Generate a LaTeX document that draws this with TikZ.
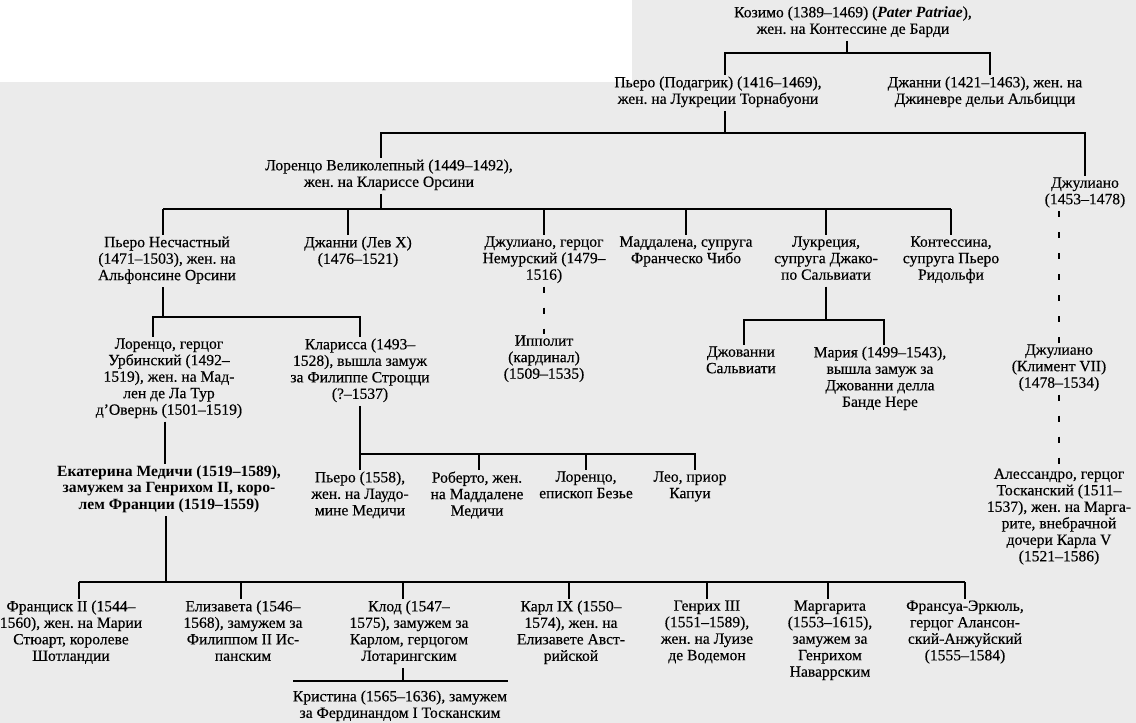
\documentclass[tikz,border=0pt]{standalone}
\usepackage{fontspec}
\setmainfont{Liberation Serif}[UprightFeatures={FakeBold=0.35}]
\begin{document}
\frenchspacing
\begin{tikzpicture}[x=1pt,y=-1pt,
  every node/.style={font=\fontsize{15.6}{16.5}\selectfont\frenchspacing, align=center, anchor=north,
    inner sep=0pt, outer xsep=0pt, outer ysep=2pt,
    execute at begin node=\strut, execute at end node=\strut},
  tree/.style={line width=2pt, black},
  dashtree/.style={line width=2pt, black, dash pattern=on 6pt off 15pt},
  boldnode/.style={font=\fontsize{15.6}{16.5}\selectfont\bfseries\frenchspacing}]
\definecolor{bgray}{RGB}{235,235,235}
\useasboundingbox (0,0) rectangle (1136,723);
\fill[bgray] (0,0) rectangle (1136,723);
\fill[white] (0,0) rectangle (632,82);

% ---------- nodes ----------
\node (koz) at (853,4.5) {Козимо (1389–1469) (\textbf{\textit{Pater Patriae}}),\\жен. на Контессине де Барди};
\node (piero) at (718,74.5) {Пьеро (Подагрик) (1416–1469),\\жен. на Лукреции Торнабуони};
\node (djanni) at (985,74.5) {Джанни (1421–1463), жен. на\\Джиневре дельи Альбицци};
\node (lor) at (389,157.5) {Лоренцо Великолепный (1449–1492),\\жен. на Клариссе Орсини};
\node (jul) at (1085,175.5) {Джулиано\\(1453–1478)};

\node (pn) at (167,234.5) {Пьеро Несчастный\\(1471–1503), жен. на\\Альфонсине Орсини};
\node (leoX) at (358,234.5) {Джанни (Лев X)\\(1476–1521)};
\node (jnem) at (544,234.5) {Джулиано, герцог\\Немурский (1479–\\1516)};
\node (madd) at (686,234.5) {Маддалена, супруга\\Франческо Чибо};
\node (lucr) at (826,234.5) {Лукреция,\\супруга Джако-\\по Сальвиати};
\node (cont) at (951,234.5) {Контессина,\\супруга Пьеро\\Ридольфи};

\node (lorU) at (169,336.5) {Лоренцо, герцог\\Урбинский (1492–\\1519), жен. на Мад-\\лен де Ла Тур\\д’Овернь (1501–1519)};
\node (clar) at (360,336.5) {Кларисса (1493–\\1528), вышла замуж\\за Филиппе Строцци\\(?–1537)};
\node (ipp) at (544,333.5) {Ипполит\\(кардинал)\\(1509–1535)};
\node (djs) at (741,344.5) {Джованни\\Сальвиати};
\node (maria) at (880,344.5) {Мария (1499–1543),\\вышла замуж за\\Джованни делла\\Банде Нере};
\node (clem) at (1059,342.5) {Джулиано\\(Климент VII)\\(1478–1534)};

\node[boldnode] (cath) at (169,463.5) {Екатерина Медичи (1519–1589),\\замужем за Генрихом II, коро-\\лем Франции (1519–1559)};
\node (p1558) at (360,469.5) {Пьеро (1558),\\жен. на Лаудо-\\мине Медичи};
\node (rob) at (477,469.5) {Роберто, жен.\\на Маддалене\\Медичи};
\node (lbish) at (586,469.5) {Лоренцо,\\епископ Безье};
\node (leo) at (690,469.5) {Лео, приор\\Капуи};
\node (aless) at (1059,466.5) {Алессандро, герцог\\Тосканский (1511–\\1537), жен. на Марга-\\рите, внебрачной\\дочери Карла V\\(1521–1586)};

\node (fr) at (71,598.5) {Франциск II (1544–\\1560), жен. на Марии\\Стюарт, королеве\\Шотландии};
\node (eliz) at (243,598.5) {Елизавета (1546–\\1568), замужем за\\Филиппом II Ис-\\панским};
\node (claude) at (409,598.5) {Клод (1547–\\1575), замужем за\\Карлом, герцогом\\Лотарингским};
\node (karl) at (571,598.5) {Карл IX (1550–\\1574), жен. на\\Елизавете Авст-\\рийской};
\node (henri) at (707,598.5) {Генрих III\\(1551–1589),\\жен. на Луизе\\де Водемон};
\node (marg) at (830,598.5) {Маргарита\\(1553–1615),\\замужем за\\Генрихом\\Наваррским};
\node (fran) at (965,598.5) {Франсуа-Эркюль,\\герцог Алансон-\\ский-Анжуйский\\(1555–1584)};
\node (krist) at (400,688.5) {Кристина (1565–1636), замужем\\за Фердинандом I Тосканским};

% ---------- junctions ----------
\coordinate (j0p) at (847,53);  \coordinate (j0a) at (725,53);  \coordinate (j0b) at (990,53);
\coordinate (j1p) at (725,133); \coordinate (j1a) at (381,133); \coordinate (j1b) at (1085,133);
\coordinate (j2p) at (381,209); \coordinate (j2a) at (163,209); \coordinate (j2b) at (348,209);
\coordinate (j2c) at (544,209); \coordinate (j2d) at (686,209); \coordinate (j2e) at (826,209);
\coordinate (j2f) at (951,209);
\coordinate (j3p) at (163,317); \coordinate (j3a) at (153,317); \coordinate (j3b) at (360,317);
\coordinate (j4p) at (826,320); \coordinate (j4a) at (744,320); \coordinate (j4b) at (884,320);
\coordinate (j5p) at (360,454); \coordinate (j5b) at (479,454); \coordinate (j5c) at (586,454);
\coordinate (j5d) at (695,454);
\coordinate (jlc) at (165,0);
\coordinate (j6p) at (166,582); \coordinate (j6a) at (79,582);  \coordinate (j6b) at (241,582);
\coordinate (j6c) at (403,582); \coordinate (j6d) at (569,582); \coordinate (j6e) at (707,582);
\coordinate (j6f) at (828,582); \coordinate (j6g) at (965,582);
\coordinate (j7p) at (403,681); \coordinate (j7l) at (293,681); \coordinate (j7r) at (508,681);

% ---------- connectors ----------
\draw[tree] (koz.south -| j0p) -- (j0p);
\draw[tree] (piero.north -| j0a) -- (j0a) -- (j0b) -- (djanni.north -| j0b);

\draw[tree] (piero.south -| j1p) -- (j1p);
\draw[tree] (lor.north -| j1a) -- (j1a) -- (j1b) -- (jul.north -| j1b);

\draw[tree] (lor.south -| j2p) -- (j2p);
\draw[tree] (j2a) -- (j2f);
\draw[tree] (j2a) -- (pn.north -| j2a);
\draw[tree] (j2b) -- (leoX.north -| j2b);
\draw[tree] (j2c) -- (jnem.north -| j2c);
\draw[tree] (j2d) -- (madd.north -| j2d);
\draw[tree] (j2e) -- (lucr.north -| j2e);
\draw[tree] (j2f) -- (cont.north -| j2f);

\draw[tree] (pn.south -| j3p) -- (j3p);
\draw[tree] (lorU.north -| j3a) -- (j3a) -- (j3b) -- (clar.north -| j3b);

\draw[tree] (lucr.south -| j4p) -- (j4p);
\draw[tree] (djs.north -| j4a) -- (j4a) -- (j4b) -- (maria.north -| j4b);

\draw[dashtree] (jnem.south) -- (ipp.north);
\draw[dashtree] (jul.south -| clem.north) -- (clem.north);
\draw[dashtree] (clem.south) -- (aless.north);

\draw[tree] (clar.south -| j5p) -- (j5p) -- (j5d) -- (leo.north -| j5d);
\draw[tree] (j5p) -- (p1558.north -| j5p);
\draw[tree] (j5b) -- (rob.north -| j5b);
\draw[tree] (j5c) -- (lbish.north -| j5c);

\draw[tree] (lorU.south -| jlc) -- (cath.north -| jlc);

\draw[tree] (cath.south -| j6p) -- (j6p);
\draw[tree] (j6a) -- (j6g);
\draw[tree] (j6a) -- (fr.north -| j6a);
\draw[tree] (j6b) -- (eliz.north -| j6b);
\draw[tree] (j6c) -- (claude.north -| j6c);
\draw[tree] (j6d) -- (karl.north -| j6d);
\draw[tree] (j6e) -- (henri.north -| j6e);
\draw[tree] (j6f) -- (marg.north -| j6f);
\draw[tree] (j6g) -- (fran.north -| j6g);

\draw[tree] (claude.south -| j7p) -- (j7p);
\draw[tree] (j7l) -- (j7r);
\end{tikzpicture}
\end{document}
